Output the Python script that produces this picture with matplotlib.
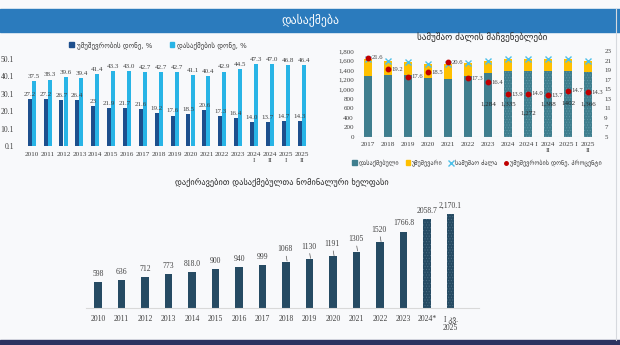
import matplotlib
matplotlib.use("Agg")
import matplotlib.pyplot as plt
from matplotlib.patches import Rectangle, Patch
from matplotlib.lines import Line2D
import numpy as np

plt.rcParams["font.family"] = ["Liberation Serif", "DejaVu Sans"]
plt.rcParams["hatch.linewidth"] = 0.4

# --- left chart: rates
rate_cats = ["2010", "2011", "2012", "2013", "2014", "2015", "2016", "2017", "2018",
             "2019", "2020", "2021", "2022", "2023", "2024\nI", "2024\nII", "2025\nI", "2025\nII"]
unemp_rate = [27.2, 27.2, 26.7, 26.4, 23, 21.9, 21.7, 21.6, 19.2, 17.6, 18.5, 20.6,
              17.3, 16.4, 14.0, 13.7, 14.7, 14.3]
unemp_rate_lbl = ["27.2", "27.2", "26.7", "26.4", "23", "21.9", "21.7", "21.6", "19.2",
                  "17.6", "18.5", "20.6", "17.3", "16.4", "14.0", "13.7", "14.7", "14.3"]
emp_rate = [37.5, 38.3, 39.6, 39.4, 41.4, 43.3, 43.0, 42.7, 42.7, 42.7, 41.1, 40.4,
            42.9, 44.5, 47.3, 47.0, 46.8, 46.4]

# --- right chart: labour force indicators
lf_cats = ["2017", "2018", "2019", "2020", "2021", "2022", "2023", "2024",
           "2024 I", "2024\nII", "2025 I", "2025\nII"]
employed = [1285, 1290, 1295, 1230, 1215, 1278, 1330, 1385, 1380, 1385, 1385, 1360]
labour_force = [1632, 1596, 1562, 1527, 1527, 1541, 1590, 1625, 1625, 1625, 1625, 1596]
unemp_pct = [21.6, 19.2, 17.6, 18.5, 20.6, 17.3, 16.4, 13.9, 14.0, 13.7, 14.7, 14.3]
employed_lbl = ["", "", "", "", "", "", "1,284", "1,335", "1,272", "1,388", "1402", "1,366"]

# --- bottom chart: nominal wage
wage_cats = ["2010", "2011", "2012", "2013", "2014", "2015", "2016", "2017", "2018",
             "2019", "2020", "2021", "2022", "2023", "2024*", "I კვ.\n2025"]
wage = [598, 636, 712, 773, 818.0, 900, 940, 999, 1068, 1130, 1191, 1305, 1520,
        1766.8, 2058.7, 2170.1]
wage_lbl = ["598", "636", "712", "773", "818.0", "900", "940", "999", "1068", "1130",
            "1191", "1305", "1520", "1766.8", "2058.7", "2,170.1"]

W, H = 620, 345
fig = plt.figure(figsize=(6.2, 3.45), dpi=100)
fig.patch.set_facecolor("#f8f9fb")

def fx(px):
    return px / W

def fy(py):
    return 1 - py / H

# banner + bottom strip
fig.add_artist(Rectangle((0, fy(32)), 1, 23 / H, transform=fig.transFigure,
                         color="#2b7bbd", zorder=0))
fig.add_artist(Rectangle((0, 0), 1, 5 / H, transform=fig.transFigure,
                         color="#2c3260", zorder=0))
fig.add_artist(Line2D([fx(616), fx(616)], [fy(9), fy(340)], transform=fig.transFigure,
                      color="#d6d9de", lw=0.8))
fig.text(0.5, fy(20.5), "დასაქმება", color="white", fontsize=8.5,
         family="DejaVu Sans", ha="center", va="center")

txt = "#404040"

# ---------------- left chart
ax1 = fig.add_axes([fx(23.8), fy(146), fx(285.8), 87 / H])
ax1.set_facecolor("none")
x = np.arange(len(rate_cats))
ax1.bar(x - 0.13, unemp_rate, 0.25, color="#1d4f8d")
ax1.bar(x + 0.13, emp_rate, 0.25, color="#28b4e6")
for xi, v, s in zip(x, unemp_rate, unemp_rate_lbl):
    ax1.annotate(s, (xi - 0.13, v), xytext=(0, 1.5), textcoords="offset points",
                 ha="center", va="bottom", fontsize=5, color=txt)
for xi, v in zip(x, emp_rate):
    ax1.annotate(f"{v:.1f}", (xi + 0.13, v), xytext=(0, 1.5), textcoords="offset points",
                 ha="center", va="bottom", fontsize=5, color=txt)
ax1.set_xlim(-0.5, len(rate_cats) - 0.5)
ax1.set_ylim(0.1, 50.1)
ax1.set_yticks([0.1, 10.1, 20.1, 30.1, 40.1, 50.1])
ax1.set_yticklabels(["0.1", "10.1", "20.1", "30.1", "40.1", "50.1"])
ax1.set_xticks(x)
ax1.set_xticklabels(rate_cats, linespacing=1.3)
ax1.tick_params(axis="y", length=0, pad=7, labelsize=5.5, labelcolor=txt)
ax1.tick_params(axis="x", length=0, pad=4, labelsize=5.2, labelcolor=txt)
for sp in ax1.spines.values():
    sp.set_visible(False)
h1 = [Patch(color="#1d4f8d"), Patch(color="#28b4e6")]
ax1.legend(h1, ["უმუშევრობის დონე, %", "დასაქმების დონე, %"], ncol=2, frameon=False,
           loc="center", bbox_to_anchor=(0.47, 1.16), handlelength=0.7,
           handleheight=0.7, handletextpad=0.4, columnspacing=2.5,
           prop={"family": "DejaVu Sans", "size": 5}, labelcolor=txt)

# ---------------- right chart
teal = "#3f7e8e"
ax2 = fig.add_axes([fx(358), fy(136.7), fx(240), 85.7 / H])
ax2.set_facecolor("none")
xr = np.arange(len(lf_cats))
unemployed = [lf - e for lf, e in zip(labour_force, employed)]
for i in xr:
    hatch = "......" if i >= 7 else None
    ax2.bar(i, employed[i], 0.42, color=teal, hatch=hatch, edgecolor="#5f9aa8", lw=0)
ax2.bar(xr, unemployed, 0.42, bottom=employed, color="#ffc000")
ax2.plot(xr, labour_force, "x", color="#4fc0e8", ms=4.5, mew=1.0)
for i, s in enumerate(employed_lbl):
    if s:
        yy = 500 if i == 8 else 690
        ax2.text(i, yy, s, ha="center", va="center", fontsize=5, color="#262626")
ax2.set_xlim(-0.5, len(lf_cats) - 0.5)
ax2.set_ylim(0, 1800)
ax2.set_yticks(range(0, 1801, 200))
ax2.set_yticklabels([f"{v:,}" for v in range(0, 1801, 200)])
ax2.set_xticks(xr)
ax2.set_xticklabels(lf_cats, linespacing=1.3)
ax2.tick_params(axis="y", length=0, pad=3, labelsize=5, labelcolor=txt)
ax2.tick_params(axis="x", length=0, pad=4, labelsize=5.2, labelcolor=txt)
for sp in ax2.spines.values():
    sp.set_visible(False)
ax2.axhline(0, color="#d9d9d9", lw=0.8)

ax3 = ax2.twinx()
ax3.plot(xr, unemp_pct, "o", color="#c00000", ms=3.2)
for i, v in enumerate(unemp_pct):
    ax3.annotate(f"{v:.1f}", (i, v), xytext=(2.5, 0), textcoords="offset points",
                 ha="left", va="center", fontsize=4.8, color=txt)
ax3.set_ylim(5, 23)
ax3.set_yticks(range(5, 24, 2))
ax3.tick_params(axis="y", length=0, pad=4.5, labelsize=5, labelcolor=txt)
for sp in ax3.spines.values():
    sp.set_visible(False)

fig.text(fx(482), fy(37), "სამუშაო ძალის მაჩვენებლები", family="DejaVu Sans",
         fontsize=6.5, color="#262626", ha="center", va="center")
h2 = [Patch(color=teal), Patch(color="#ffc000"),
      Line2D([], [], ls="none", marker="x", color="#4fc0e8", ms=4, mew=1),
      Line2D([], [], ls="none", marker="o", color="#c00000", ms=2.5)]
fig.legend(h2, ["დასაქმებული", "უმუშევარი", "სამუშაო ძალა", "უმუშევრობის დონე, პროცენტი"],
           ncol=4, frameon=False, loc="center", bbox_to_anchor=(fx(477), fy(163)),
           handlelength=0.7, handleheight=0.7, handletextpad=0.3, columnspacing=1.0,
           prop={"family": "DejaVu Sans", "size": 4.5}, labelcolor=txt)

# ---------------- bottom chart
ax4 = fig.add_axes([fx(86.25), fy(307.7), fx(376), 103.3 / H])
ax4.set_facecolor("none")
xw = np.arange(len(wage_cats))
for i in xw:
    hatch = "......" if i >= 14 else None
    ax4.bar(i, wage[i], 0.34, color="#264b63", hatch=hatch, edgecolor="#4d6f84", lw=0)
leader = {8, 9, 10, 11, 12}
for i, (v, s) in enumerate(zip(wage, wage_lbl)):
    if i in leader:
        ax4.annotate(s, (i + 0.05, v), xytext=(-1.5, 6), textcoords="offset points",
                     ha="center", va="bottom", fontsize=5.5, color=txt,
                     arrowprops=dict(arrowstyle="-", color="#595959", lw=0.5,
                                     shrinkA=0, shrinkB=0.5))
    else:
        ax4.annotate(s, (i, v), xytext=(0, 3), textcoords="offset points",
                     ha="center", va="bottom", fontsize=5.5, color=txt)
ax4.set_xlim(-0.5, len(wage_cats) - 0.5)
ax4.set_ylim(0, 2400)
ax4.set_yticks([])
ax4.set_xticks(xw)
ax4.set_xticklabels(wage_cats, linespacing=1.3)
ax4.tick_params(axis="x", length=0, pad=5, labelsize=5.5, labelcolor=txt)
for sp in ax4.spines.values():
    sp.set_visible(False)
ax4.plot([-0.5, 16.2], [0, 0], color="#d9d9d9", lw=0.8, clip_on=False)
fig.text(fx(282), fy(183), "დაქირავებით დასაქმებულთა ნომინალური ხელფასი",
         family="DejaVu Sans", fontsize=6, color="#262626", ha="center", va="center")

fig.savefig("out.png", dpi=100, facecolor=fig.get_facecolor())
